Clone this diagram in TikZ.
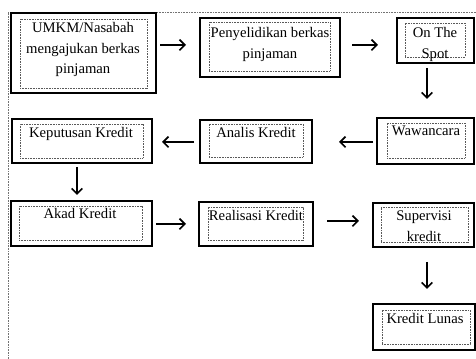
\documentclass[tikz,border=0pt]{standalone}
\usepackage{fontspec}
\setmainfont{Liberation Serif}
\usetikzlibrary{arrows.meta,fit}
\begin{document}
\begin{tikzpicture}[x=0.75pt,y=-0.75pt,
  outerbox/.style={draw=black,line width=0.85pt,inner sep=0pt},
  innerbox/.style={draw=black!65,line width=0.6pt,dash pattern=on 0.6pt off 0.6pt,inner sep=0pt},
  lbl/.style={font=\fontsize{11}{15.5}\selectfont,align=center,inner sep=0pt,anchor=north},
  arr/.style={line width=1.3pt,-{Straight Barb[length=4pt,width=8pt,line width=1.3pt]}},
  frame/.style={draw=black!55,line width=0.6pt,dash pattern=on 0.6pt off 0.6pt}]
\useasboundingbox (0,0) rectangle (476,359);
\draw[frame] (8,359) -- (8,12) -- (476,12);
% boxes: name, outer corners, inner corners
\newcommand{\twobox}[9]{%
  \coordinate (#1-onw) at (#2,#3); \coordinate (#1-ose) at (#4,#5);
  \coordinate (#1-inw) at (#6,#7); \coordinate (#1-ise) at (#8,#9);
  \node[outerbox,fit=(#1-onw)(#1-ose)] (#1) {};
  \node[innerbox,fit=(#1-inw)(#1-ise)] (#1i) {};}
\twobox{b1}{11}{13}{156}{93}{20}{19}{147}{88}
\twobox{b2}{200}{18}{340}{77}{209}{22}{330}{71}
\twobox{b3}{397}{18}{474}{63}{405}{23}{465}{57}
\twobox{b4}{377}{118}{474}{164}{387}{123}{465}{158}
\twobox{b5}{200}{120}{312}{163}{209}{124}{303}{157}
\twobox{b6}{12}{119}{152}{163}{20}{124}{143}{158}
\twobox{b7}{11}{201}{152}{246}{19}{206}{142}{240}
\twobox{b8}{199}{202}{313}{246}{208}{207}{303}{240}
\twobox{b9}{373}{203}{474}{247}{381}{207}{468}{242}
\twobox{b10}{373}{304}{475}{350}{382}{310}{470}{344}
% texts (anchor north = top of first line)
\node[lbl] (t1) at (83,22) {UMKM/Nasabah\\mengajukan berkas\\pinjaman};
\node[lbl] (t2) at (270,27) {Penyelidikan berkas\\pinjaman};
\node[lbl] (t3) at (435,27) {On The\\Spot};
\node[lbl] (t4) at (426,126) {Wawancara};
\node[lbl] (t5) at (256,127) {Analis Kredit};
\node[lbl] (t6) at (81,127) {Keputusan Kredit};
\node[lbl] (t7) at (80,208) {Akad Kredit};
\node[lbl] (t8) at (256,210) {Realisasi Kredit};
\node[lbl] (t9) at (424,211) {Supervisi\\kredit};
\node[lbl] (t10) at (425,313) {Kredit Lunas};
% arrow end points
\coordinate (a1s) at (160,45);  \coordinate (a1e) at (186,45);
\coordinate (a2s) at (352,45);  \coordinate (a2e) at (378,45);
\coordinate (a3s) at (427,68);  \coordinate (a3e) at (427,99);
\coordinate (a4s) at (373,142); \coordinate (a4e) at (339,142);
\coordinate (a5s) at (194,142); \coordinate (a5e) at (162,142);
\coordinate (a6s) at (77,167);  \coordinate (a6e) at (77,195);
\coordinate (a7s) at (156,224); \coordinate (a7e) at (186,224);
\coordinate (a8s) at (327,221); \coordinate (a8e) at (359,221);
\coordinate (a9s) at (427,262); \coordinate (a9e) at (427,289);
\draw[arr] (a1s) -- (a1e);
\draw[arr] (a2s) -- (a2e);
\draw[arr] (a3s) -- (a3e);
\draw[arr] (a4s) -- (a4e);
\draw[arr] (a5s) -- (a5e);
\draw[arr] (a6s) -- (a6e);
\draw[arr] (a7s) -- (a7e);
\draw[arr] (a8s) -- (a8e);
\draw[arr] (a9s) -- (a9e);
\end{tikzpicture}
\end{document}
